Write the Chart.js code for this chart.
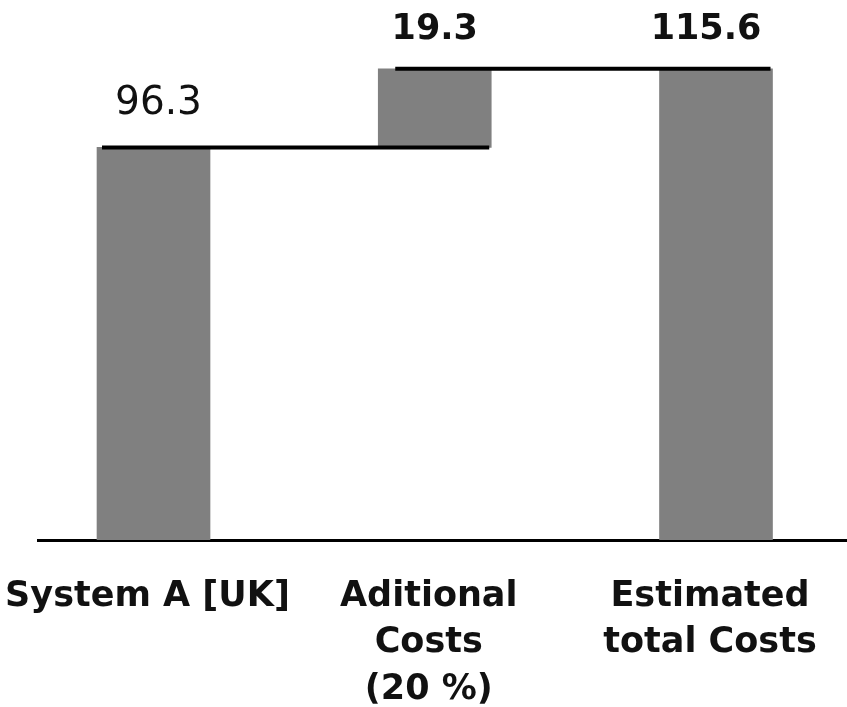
<!DOCTYPE html>
<html>
<head>
<meta charset="utf-8">
<title>Estimated total Costs</title>
<script src="https://cdn.jsdelivr.net/npm/chart.js@4/dist/chart.umd.min.js"></script>
<style>
  html, body { margin: 0; padding: 0; background: #fff; }
  #wrap { width: 847px; height: 707px; position: relative; }
</style>
</head>
<body>
<div id="wrap"><canvas id="chart"></canvas></div>
<script>
// Waterfall steps: starting cost, increment, resulting total
const categories = [
  ['System A [UK]'],
  ['Aditional', 'Costs', '(20 %)'],
  ['Estimated', 'total Costs']
];
const stepKinds = ['start', 'delta', 'total'];
const stepValues = [96.3, 19.3, 115.6];
const valueLabels = ['96.3', '19.3', '115.6'];

// Floating bar ranges built from the steps
const ranges = [];
let level = 0;
stepValues.forEach((v, i) => {
  if (stepKinds[i] === 'delta') {
    ranges.push([level, level + v]);
    level += v;
  } else {
    ranges.push([0, v]);
    level = v;
  }
});
const barData = ranges.map((r, i) => ({ x: i, y: r }));

// Value labels above each bar and connector lines between bar levels
const waterfallDecor = {
  id: 'waterfallDecor',
  afterDatasetsDraw(chart, args, opts) {
    const { ctx } = chart;
    const meta = chart.getDatasetMeta(0);
    const yScale = chart.scales.y;
    ctx.save();
    // connectors
    ctx.strokeStyle = '#000';
    ctx.lineWidth = 4;
    for (let i = 0; i < meta.data.length - 1; i++) {
      const a = meta.data[i], b = meta.data[i + 1];
      const lvl = ranges[i][1];
      const y = yScale.getPixelForValue(lvl);
      const x0 = a.x - a.width / 2 + opts.lineInsets[i];
      const x1 = b.x + b.width / 2 - 2;
      ctx.beginPath();
      ctx.moveTo(x0, y);
      ctx.lineTo(x1, y);
      ctx.stroke();
    }
    // value labels
    ctx.fillStyle = '#111';
    ctx.textAlign = 'center';
    ctx.textBaseline = 'middle';
    meta.data.forEach((bar, i) => {
      ctx.font = opts.fonts[i];
      const top = yScale.getPixelForValue(ranges[i][1]);
      ctx.fillText(valueLabels[i], bar.x + opts.shifts[i], top - opts.gaps[i]);
    });
    ctx.restore();
  }
};

new Chart(document.getElementById('chart'), {
  type: 'bar',
  data: {
    datasets: [{
      data: barData,
      backgroundColor: '#808080',
      borderWidth: 0,
      barThickness: 113
    }]
  },
  options: {
    responsive: true,
    maintainAspectRatio: false,
    animation: false,
    devicePixelRatio: 1,
    layout: { padding: { left: 38, right: 0, top: 10, bottom: 0 } },
    plugins: {
      legend: { display: false },
      tooltip: { enabled: false },
      waterfallDecor: {
        fonts: ['39px "DejaVu Sans"', 'bold 35px "DejaVu Sans"', 'bold 35px "DejaVu Sans"'],
        shifts: [5, 0, -10],
        gaps: [44, 39, 39],
        lineInsets: [5, 17]
      }
    },
    scales: {
      x: {
        type: 'linear',
        offset: false,
        min: -0.4107,
        max: 2.4658,
        grid: { display: false, drawTicks: false, offset: false },
        border: { display: true, color: '#000', width: 3 },
        afterBuildTicks(scale) {
          scale.ticks = categories.map((_, i) => ({ value: i }));
        },
        afterFit(scale) {
          scale.height = 167;
          scale.paddingLeft = 0;
          scale.paddingRight = 0;
        },
        ticks: {
          autoSkip: false,
          maxRotation: 0,
          padding: 33,
          labelOffset: -6,
          color: '#111',
          font: { family: '"DejaVu Sans"', weight: 'bold', size: 35, lineHeight: 1.34 },
          callback: (v) => categories[v] || ''
        }
      },
      y: {
        display: false,
        min: 0,
        max: 130
      }
    }
  },
  plugins: [waterfallDecor]
});
</script>
</body>
</html>
